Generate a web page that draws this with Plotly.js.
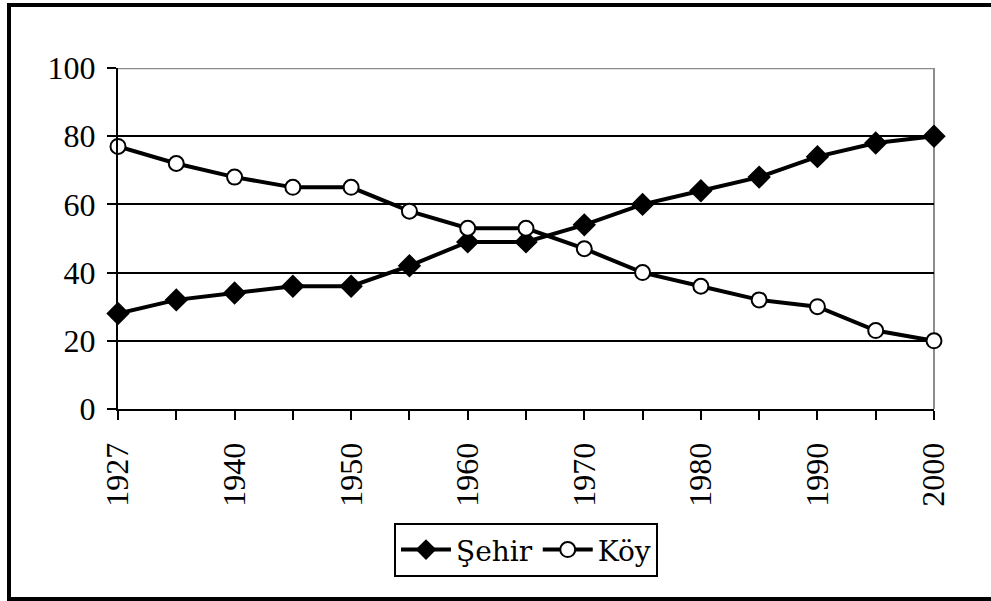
<!DOCTYPE html>
<html>
<head>
<meta charset="utf-8">
<script src="https://cdn.plot.ly/plotly-3.0.1.min.js"></script>
<style>
  body { margin: 0; background: #fff; }
  #chart { width: 991px; height: 601px; position: absolute; left: 0; top: 0; }
  #frame {
    position: absolute; left: 7px; top: 3px; width: 990px; height: 598px;
    box-sizing: border-box; border: 4px solid #000; border-right: none;
    pointer-events: none;
  }
</style>
</head>
<body>
<div id="chart"></div>
<div id="frame"></div>
<script>
// years on the category axis (every other one gets a label)
var years = ["1927", "1935", "1940", "1945", "1950", "1955", "1960", "1965",
             "1970", "1975", "1980", "1985", "1990", "1995", "2000"];
var yearLabels = ["1927", "", "1940", "", "1950", "", "1960", "",
                  "1970", "", "1980", "", "1990", "", "2000"];

// share of population (%)
var sehir = [28, 32, 34, 36, 36, 42, 49, 49, 54, 60, 64, 68, 74, 78, 80];
var koy   = [77, 72, 68, 65, 65, 58, 53, 53, 47, 40, 36, 32, 30, 23, 20];

var yTicks = [0, 20, 40, 60, 80, 100];

function font(family, size) {
    return {family: family, size: size, color: "#000"};
}

var traceSehir = {
    x: years,
    y: sehir,
    name: "Şehir",
    type: "scatter",
    mode: "lines+markers",
    cliponaxis: false,
    line: {color: "#000", width: 4},
    marker: {symbol: "diamond", size: 18, color: "#000"}
};

var traceKoy = {
    x: years,
    y: koy,
    name: "Köy",
    type: "scatter",
    mode: "lines+markers",
    cliponaxis: false,
    line: {color: "#000", width: 4},
    marker: {symbol: "circle", size: 15, color: "#fff", line: {color: "#000", width: 2}}
};

var layout = {
    width: 991,
    height: 601,
    margin: {l: 118, r: 57, t: 68, b: 192},
    paper_bgcolor: "#fff",
    plot_bgcolor: "#fff",
    font: font("Liberation Serif", 32),
    showlegend: true,
    xaxis: {
        type: "category",
        range: [0, years.length - 1],
        tickvals: years,
        ticktext: yearLabels,
        tickangle: -90,
        ticks: "outside",
        ticklen: 9,
        tickwidth: 2,
        tickcolor: "#000",
        showline: true,
        linecolor: "#000",
        linewidth: 2,
        showgrid: false,
        zeroline: false,
        ticklabelstandoff: 10,
        tickfont: font("Liberation Serif", 32)
    },
    yaxis: {
        range: [0, 100],
        tickvals: yTicks,
        ticks: "outside",
        ticklen: 9,
        tickwidth: 2,
        tickcolor: "#000",
        showline: true,
        linecolor: "#000",
        linewidth: 2,
        showgrid: true,
        gridcolor: "#000",
        gridwidth: 2,
        zeroline: false,
        ticklabelstandoff: 5,
        tickfont: font("Liberation Serif", 32)
    },
    shapes: [
        {type: "line", xref: "paper", yref: "y", x0: 0, x1: 1, y0: 100, y1: 100,
         line: {color: "#8c8c8c", width: 2.5}, layer: "between"},
        {type: "line", xref: "paper", yref: "paper", x0: 1, x1: 1, y0: 0, y1: 1,
         line: {color: "#8c8c8c", width: 2}, layer: "between"}
    ],
    legend: {
        orientation: "h",
        x: 0.5,
        xanchor: "center",
        y: -0.334,
        yanchor: "top",
        bordercolor: "#000",
        borderwidth: 2,
        bgcolor: "#fff",
        itemwidth: 50,
        font: font("DejaVu Serif", 28)
    }
};

Plotly.newPlot("chart", [traceSehir, traceKoy], layout, {displayModeBar: false, staticPlot: true});
</script>
</body>
</html>
